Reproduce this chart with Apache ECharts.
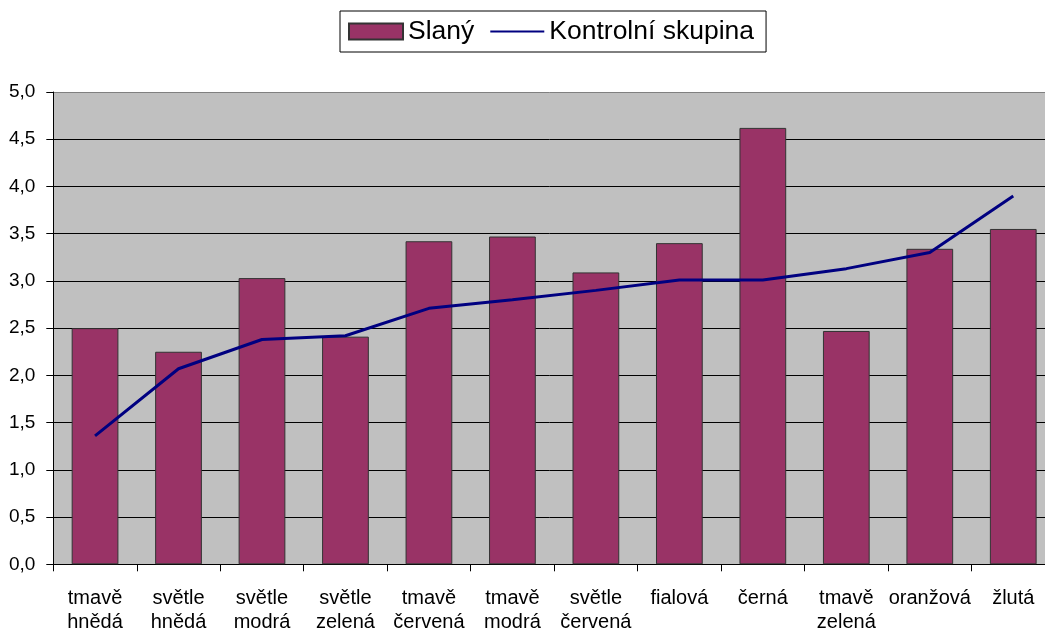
<!DOCTYPE html>
<html>
<head>
<meta charset="utf-8">
<script src="https://cdn.jsdelivr.net/npm/echarts@6/dist/echarts.min.js"></script>
<style>
html,body{margin:0;padding:0;background:#fff;}
#chart{width:1045px;height:631px;}
</style>
</head>
<body>
<div id="chart"></div>
<script>
var categories = ["tmavě\nhnědá","světle\nhnědá","světle\nmodrá","světle\nzelená","tmavě\nčervená","tmavě\nmodrá","světle\nčervená","fialová","černá","tmavě\nzelená","oranžová","žlutá"];
var slany = [2.50, 2.25, 3.03, 2.41, 3.42, 3.47, 3.09, 3.40, 4.62, 2.47, 3.34, 3.55];
var kontrolni = [1.36, 2.07, 2.38, 2.42, 2.71, 2.80, 2.90, 3.01, 3.01, 3.13, 3.30, 3.90];
var seriesNames = ["Slaný", "Kontrolní skupina"];
var yTicks = {min: 0, max: 5, interval: 0.5};

var chart = echarts.init(document.getElementById('chart'), null, {renderer: 'canvas'});
var splitColors = [];
for (var i = 0; i <= 10; i++) splitColors.push(i === 10 ? '#808080' : '#000000');
chart.setOption({
  animation: false,
  backgroundColor: '#ffffff',
  textStyle: {fontFamily: 'Arial, "Liberation Sans", sans-serif', color: '#000'},
  legend: {
    left: 340,
    top: 11,
    padding: [7, 12, 7, 8],
    backgroundColor: '#fff',
    borderColor: '#000',
    borderWidth: 1,
    itemWidth: 54,
    itemHeight: 16,
    itemGap: 15,
    textStyle: {fontSize: 26.5, color: '#000', fontFamily: 'Arial, "Liberation Sans", sans-serif'},
    data: [
      {name: seriesNames[0], icon: 'rect'},
      {name: seriesNames[1], itemStyle: {opacity: 0}, lineStyle: {width: 2, color: '#000080'}}
    ]
  },
  grid: {
    left: 53.3,
    top: 92,
    bottom: 66.7,
    right: -10,
    outerBoundsMode: 'none',
    containLabel: false,
    show: true,
    backgroundColor: '#C0C0C0',
    borderWidth: 0
  },
  xAxis: {
    type: 'category',
    data: categories,
    axisLine: {lineStyle: {color: '#000', width: 1}},
    axisTick: {show: true, length: 7, lineStyle: {color: '#000'}},
    axisLabel: {
      margin: 22,
      fontSize: 20,
      lineHeight: 24,
      color: '#000',
      interval: 0,
      fontFamily: 'Arial, "Liberation Sans", sans-serif'
    }
  },
  yAxis: {
    type: 'value',
    min: yTicks.min,
    max: yTicks.max,
    interval: yTicks.interval,
    axisLine: {show: true, lineStyle: {color: '#000', width: 1}},
    axisTick: {show: true, length: 7, lineStyle: {color: '#000'}},
    axisLabel: {
      margin: 18,
      fontSize: 19,
      color: '#000',
      fontFamily: 'Arial, "Liberation Sans", sans-serif',
      formatter: function (v) { return v.toFixed(1).replace('.', ','); }
    },
    splitLine: {show: true, lineStyle: {color: splitColors, width: 1}}
  },
  series: [
    {
      name: seriesNames[0],
      type: 'bar',
      data: slany,
      barCategoryGap: '44%',
      itemStyle: {color: '#993366', borderColor: '#333333', borderWidth: 1}
    },
    {
      name: seriesNames[1],
      type: 'line',
      data: kontrolni,
      symbol: 'none',
      lineStyle: {color: '#000080', width: 3},
      itemStyle: {color: '#000080'}
    }
  ]
});
</script>
</body>
</html>
